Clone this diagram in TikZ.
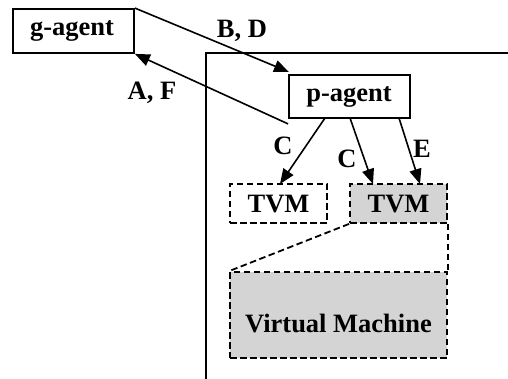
\documentclass[tikz,border=0pt]{standalone}
\usepackage{fontspec}
\setmainfont{Liberation Serif}
\usetikzlibrary{arrows.meta}
\tikzset{
  x=1pt, y=-1pt,
  lbl/.style={font=\fontsize{26.5}{30}\selectfont\bfseries, inner sep=0pt},
  solidbox/.style={draw, line width=1.8pt, fill=white, inner sep=0pt},
  dashbox/.style={draw, line width=1.8pt, dash pattern=on 6.5pt off 3.5pt, inner sep=0pt},
  shaded/.style={fill=black!17},
  conn/.style={line width=1.6pt, -{Triangle[length=15pt,width=12pt]}},
  dconn/.style={line width=1.8pt, dash pattern=on 6.5pt off 3.5pt},
  frame/.style={line width=1.8pt}
}
\begin{document}
\begin{tikzpicture}
\useasboundingbox (0,0) rectangle (508,379);
% frame
\coordinate (fb) at (206,379);
\coordinate (ftl) at (206,53);
\coordinate (fr) at (508,53);
\draw[frame] (fb) -- (ftl) -- (fr);
% boxes
\node[solidbox, minimum width=121pt, minimum height=44pt] (g) at (73.5,31) {};
\node[lbl] (gt) at (72,31) {g-agent};
\node[solidbox, minimum width=121pt, minimum height=43pt] (p) at (349.5,96.5) {};
\node[lbl] (pt) at (349,97) {p-agent};
\node[dashbox, minimum width=97pt, minimum height=39pt] (t1) at (278.5,203.5) {};
\node[lbl] (t1t) at (278.5,204) {TVM};
\node[dashbox, shaded, minimum width=97pt, minimum height=39pt] (t2) at (398.5,203.5) {};
\node[lbl] (t2t) at (398.5,204) {TVM};
\node[dashbox, shaded, minimum width=217pt, minimum height=86pt] (vm) at (338.5,315) {};
\node[lbl] (vmt) at (338.5,324) {Virtual Machine};
% connectors
\coordinate (bdS) at (g.north east);
\coordinate (bdE) at (289,72);
\draw[conn] (bdS) -- (bdE);
\coordinate (afS) at ([yshift=-5pt]p.south west);
\draw[conn] (afS) -- (g.south east);
\coordinate (c1S) at (325,118);
\coordinate (c1E) at (280,184);
\draw[conn] (c1S) -- (c1E);
\coordinate (c2S) at (350,118);
\coordinate (c2E) at (373,184);
\draw[conn] (c2S) -- (c2E);
\coordinate (eS) at (399,118);
\coordinate (eE) at (420,184);
\draw[conn] (eS) -- (eE);
\draw[dconn] (t2.south west) -- (vm.north west);
\draw[dconn] (t2.south east) -- (vm.north east);
% labels
\node[lbl] (bd) at (242,31) {B, D};
\node[lbl] (af) at (152,93) {A, F};
\node[lbl] (c1) at (283,146) {C};
\node[lbl] (c2) at (347,159) {C};
\node[lbl] (e) at (422,149) {E};
\end{tikzpicture}
\end{document}
